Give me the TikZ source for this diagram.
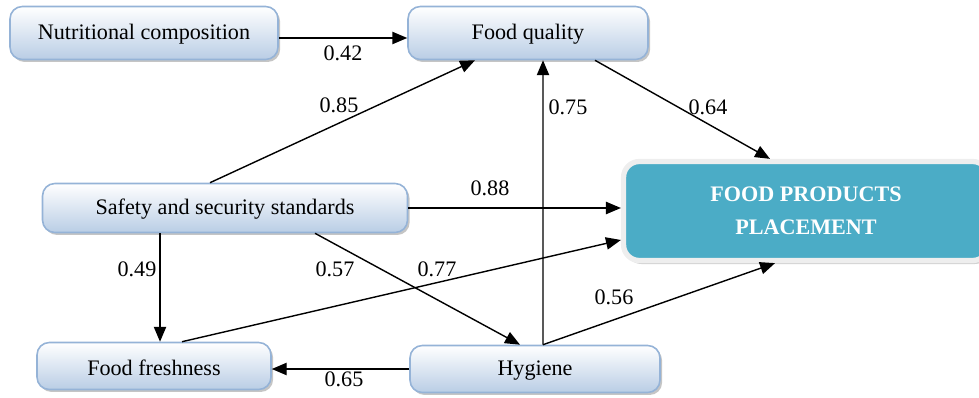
\documentclass[tikz,border=0pt]{standalone}
\usepackage{fontspec}
\setmainfont{Liberation Serif}
\usepackage{xcolor}
\usetikzlibrary{shadows,arrows.meta}
\definecolor{boxline}{HTML}{95B3D7}
\definecolor{boxbottom}{HTML}{B9CDE5}
\definecolor{tealfill}{HTML}{4BACC6}
\definecolor{rimgray}{HTML}{EEEEEE}

\begin{document}
\begin{tikzpicture}[x=0.02cm,y=-0.02cm,
    factor/.style={draw=boxline, line width=0.9pt, rounded corners=7pt,
        top color=white, bottom color=boxbottom,
        drop shadow={shadow xshift=1.2pt, shadow yshift=-1.4pt, fill=black!45},
        font=\fontsize{12.6}{14}\selectfont, inner sep=0pt, text height=2.3ex},
    target/.style={draw=rimgray, line width=3pt, rounded corners=9pt, fill=tealfill,
        drop shadow={shadow xshift=1.2pt, shadow yshift=-2pt, fill=black!35},
        text=white, font=\bfseries\fontsize{12.6}{18.5}\selectfont, align=center, inner sep=0pt},
    path/.style={line width=0.8pt, -{Triangle[length=8.5pt,width=7pt]}},
    coef/.style={font=\fontsize{12.6}{14}\selectfont}]
    \useasboundingbox (0,0) rectangle (979,398);
    % boxes
    \node[factor, minimum width=5.36cm, minimum height=1.06cm] (nutrition) at (144,33) {Nutritional composition};
    \node[factor, minimum width=4.8cm, minimum height=1.06cm] (quality) at (528,33) {Food quality};
    \node[factor, minimum width=7.3cm, minimum height=0.98cm] (safety) at (225,208) {Safety and security standards};
    \node[factor, minimum width=4.68cm, minimum height=0.94cm] (freshness) at (154,366) {Food freshness};
    \node[factor, minimum width=5.0cm, minimum height=0.94cm] (hygiene) at (535,369) {Hygiene};
    \node[target, minimum width=7.3cm, minimum height=1.98cm] (placement) at (806,211) {FOOD PRODUCTS\\PLACEMENT};
    % paths
    \draw[path] ([yshift=-0.1cm]nutrition.east) -- ([yshift=-0.1cm]quality.west);
    \draw[path] ([xshift=-0.3cm]safety.north) -- ([xshift=-1.06cm]quality.south);
    \draw[path] ([xshift=0.16cm]hygiene.north) -- ([xshift=0.3cm]quality.south);
    \draw[path] ([xshift=1.34cm]quality.south) -- ([xshift=-0.72cm]placement.north);
    \draw[path] (safety.east) -- (safety.east -| placement.west);
    \draw[path] ([xshift=0.56cm]freshness.north) -- ([yshift=-0.58cm]placement.west);
    \draw[path] ([xshift=-1.3cm]safety.south) coordinate (s1) -- (s1 |- freshness.north);
    \draw[path] ([xshift=1.8cm]safety.south) -- ([xshift=-0.3cm]hygiene.north);
    \draw[path] (hygiene.west) -- (hygiene.west -| freshness.east);
    \draw[path] ([xshift=0.16cm]hygiene.north) -- ([xshift=-0.62cm]placement.south);
    % coefficients
    \node[coef] at (343,53) {0.42};
    \node[coef] at (339,105) {0.85};
    \node[coef] at (568,107) {0.75};
    \node[coef] at (708,107) {0.64};
    \node[coef] at (490,188) {0.88};
    \node[coef] at (137,269) {0.49};
    \node[coef] at (335,269) {0.57};
    \node[coef] at (437,269) {0.77};
    \node[coef] at (614,297) {0.56};
    \node[coef] at (344,379) {0.65};
\end{tikzpicture}
\end{document}
